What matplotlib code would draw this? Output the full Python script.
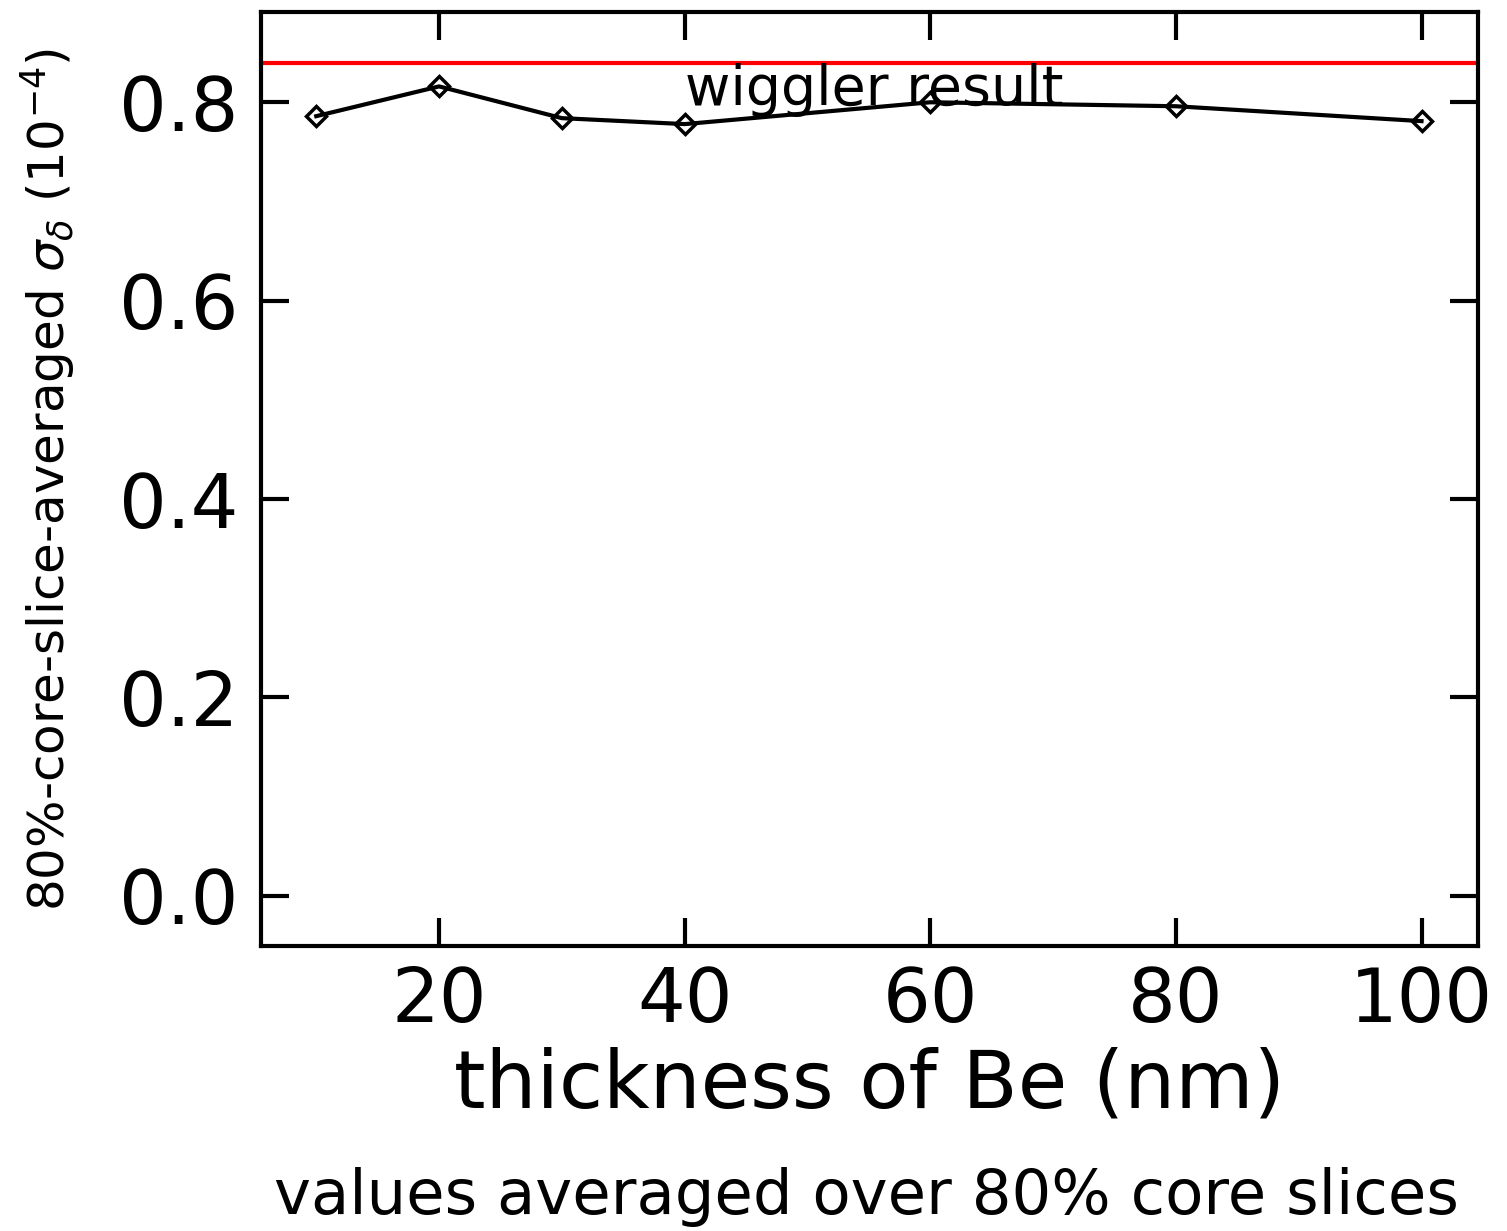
import numpy as np
import matplotlib
matplotlib.use("Agg")
import matplotlib.pyplot as plt

# thickness of Be (nm) vs 80%-core-slice-averaged sigma_delta (1e-4)
thickness = [10, 20, 30, 40, 60, 80, 100]
sigma_delta = [0.786, 0.816, 0.784, 0.778, 0.800, 0.796, 0.781]
wiggler_result = 0.840

x_ticks = [20, 40, 60, 80, 100]
y_ticks = [0.0, 0.2, 0.4, 0.6, 0.8]

fig = plt.figure(figsize=(15.07, 12.31), dpi=100)
ax = fig.add_axes([261 / 1507, 1 - 946 / 1231, (1478 - 261) / 1507, (946 - 12) / 1231])

ax.axhline(wiggler_result, color="red", lw=3)
ax.plot(thickness, sigma_delta, color="black", lw=3, marker="D", ms=10,
        mfc="none", mec="black", mew=2.5)
ax.text(55.4, 0.797, "wiggler result", fontsize=40, ha="center", va="baseline")

ax.set_xlim(5.5, 104.6)
ax.set_ylim(-0.0505, 0.891)
ax.set_xticks(x_ticks)
ax.set_yticks(y_ticks)
ax.set_xticklabels([str(v) for v in x_ticks])
ax.set_yticklabels(["%.1f" % v for v in y_ticks])
ax.tick_params(direction="in", length=20, width=3, top=True, right=True,
               labelsize=54, pad=14)
ax.tick_params(axis="y", pad=16)
for s in ax.spines.values():
    s.set_linewidth(3)

ax.set_xlabel("thickness of Be (nm)", fontsize=58, labelpad=6)
ax.set_ylabel(r"80%-core-slice-averaged $\sigma_\delta$ (10$^{-4}$)", fontsize=36,
              labelpad=30)
fig.text(0.575, 0.028, "values averaged over 80% core slices", fontsize=45,
         ha="center", va="center")

fig.savefig("out.png", dpi=100)
